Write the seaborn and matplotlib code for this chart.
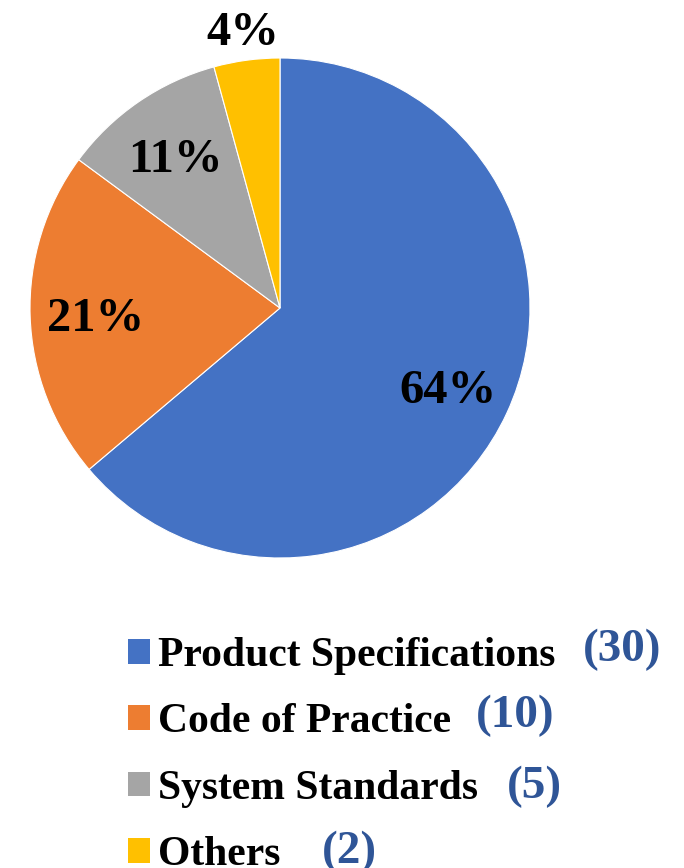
import matplotlib.pyplot as plt
import numpy as np
import seaborn as sns
from matplotlib.patches import Patch

categories = ["Product Specifications", "Code of Practice", "System Standards", "Others"]
counts = [30, 10, 5, 2]
colors = ["#4472C4", "#ED7D31", "#A5A5A5", "#FFC000"]
count_color = "#2F5597"

sns.set_theme(style="white")
plt.rcParams['font.family'] = ['Liberation Serif', 'DejaVu Serif']
plt.rcParams['font.weight'] = 'bold'
plt.rcParams['text.color'] = 'black'

W, H = 684, 868
fig = plt.figure(figsize=(W / 100, H / 100), dpi=100)

# pie centred at (280, 308) px with radius 250 px
ax = fig.add_axes([30 / W, (H - 558) / H, 500 / W, 500 / H])
wedges, texts, autotexts = ax.pie(
    counts,
    colors=colors,
    startangle=90,
    counterclock=False,
    autopct='%.0f%%',
    pctdistance=0.74,
    wedgeprops=dict(edgecolor="white", linewidth=0.8),
    textprops=dict(fontsize=35, fontweight="bold", color="black"),
)
ax.set_xlim(-1, 1)
ax.set_ylim(-1, 1)
ax.set_aspect("equal")
for t in autotexts:
    t.set_verticalalignment("center_baseline")

# small slice label goes outside
w = wedges[-1]
ang = np.deg2rad((w.theta1 + w.theta2) / 2)
autotexts[-1].set_position((1.13 * np.cos(ang), 1.13 * np.sin(ang)))

handles = [Patch(facecolor=c, edgecolor="none") for c in colors]
leg = fig.legend(
    handles, categories,
    loc="upper left",
    bbox_to_anchor=(128 / W, 1 - 637 / H),
    frameon=False,
    fontsize=30,
    handlelength=0.53,
    handleheight=0.53,
    handletextpad=0.19,
    labelspacing=0.68,
    borderpad=0,
    borderaxespad=0,
)
for t in leg.get_texts():
    t.set_fontweight("bold")
    t.set_color("black")

count_pos = [(583, 650), (476, 716), (507, 787), (322, 852)]
for n, (x, y) in zip(counts, count_pos):
    fig.text(x / W, 1 - y / H, f"({n})", color=count_color, fontsize=34,
             fontweight="bold", va="center", ha="left")

plt.savefig("out.png", dpi=100)
